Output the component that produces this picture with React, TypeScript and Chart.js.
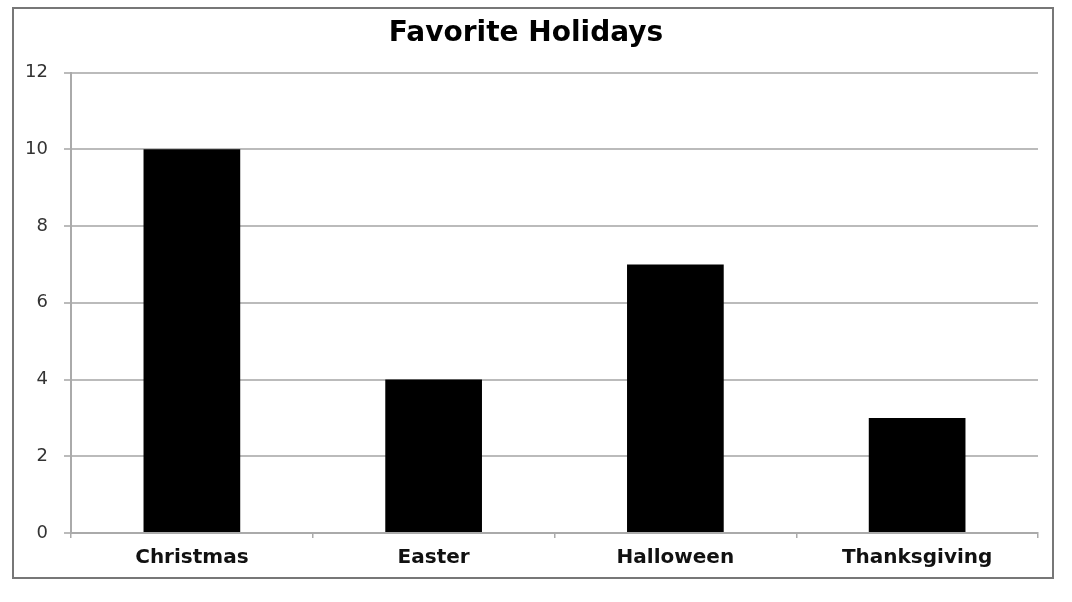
import React, { useEffect, useRef } from "react";
import { Chart, registerables } from "chart.js";

Chart.register(...registerables);

const categories = ["Christmas", "Easter", "Halloween", "Thanksgiving"];
const votes = [10, 4, 7, 3];
const yTicks = [0, 2, 4, 6, 8, 10, 12];

export default function App() {
  const ref = useRef<HTMLCanvasElement | null>(null);
  useEffect(() => {
    if (!ref.current) return;
    const chart = new Chart(ref.current, {
      type: "bar",
      data: {
        labels: categories,
        datasets: [
          {
            label: "Votes",
            data: votes,
            backgroundColor: "#000000",
            borderWidth: 0,
            barPercentage: 0.4,
            categoryPercentage: 1,
          },
        ],
      },
      options: {
        animation: false,
        responsive: false,
        maintainAspectRatio: false,
        layout: { padding: { left: 0, right: 14, top: 0, bottom: 0 } },
        plugins: {
          legend: { display: false },
          tooltip: { enabled: false },
          title: {
            display: true,
            text: "Favorite Holidays",
            color: "#000",
            font: { family: "DejaVu Sans", size: 28, weight: "bold" },
            padding: { top: 8, bottom: 22 },
          },
        },
        scales: {
          x: {
            grid: {
              display: true,
              drawOnChartArea: false,
              drawTicks: true,
              tickLength: 5,
              color: "#aaaaaa",
              lineWidth: 1.5,
              offset: true,
            },
            border: { display: true, color: "#aaaaaa", width: 2 },
            ticks: {
              color: "#111",
              padding: 8,
              font: { family: "DejaVu Sans", size: 20, weight: "bold" },
            },
            afterFit: (scale: any) => {
              scale.height = 44;
            },
          },
          y: {
            min: 0,
            max: 12,
            afterBuildTicks: (scale: any) => {
              scale.ticks = yTicks.map((v) => ({ value: v }));
            },
            grid: {
              color: "#bbbbbb",
              lineWidth: 2,
              tickLength: 7,
            },
            border: { display: true, color: "#aaaaaa", width: 2 },
            ticks: {
              color: "#333",
              padding: 16,
              font: { family: "DejaVu Sans", size: 18 },
            },
            afterFit: (scale: any) => {
              scale.width = 57;
            },
          },
        },
      },
    });
    return () => chart.destroy();
  }, []);

  return (
    <div
      style={{
        position: "fixed",
        left: 12,
        top: 7,
        width: 1042,
        height: 572,
        border: "2px solid #777",
        boxSizing: "border-box",
        background: "#fff",
      }}
    >
      <canvas ref={ref} width={1038} height={568} style={{ display: "block" }} />
    </div>
  );
}
